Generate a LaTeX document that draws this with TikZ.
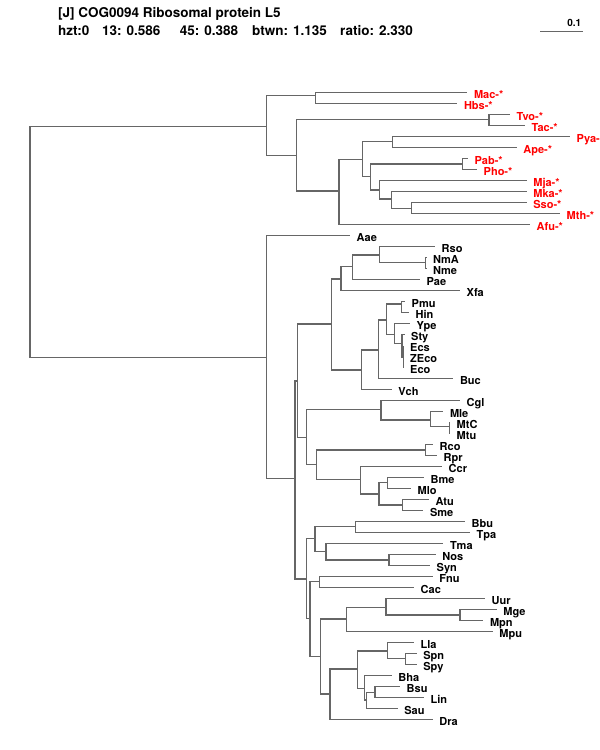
\documentclass[tikz,border=0pt]{standalone}
\usepackage{fontspec}
\setmainfont{TeX Gyre Heros}
\usepackage{xcolor}
\usepackage{tikz}
\usetikzlibrary{positioning}
\definecolor{treegray}{HTML}{666666}
\tikzset{
  branch/.style={draw=treegray, line width=1.4pt},
  leaf/.style={
    font=\fontsize{11}{11}\selectfont\bfseries, inner sep=0pt,
    text height=8pt, text depth=0pt, yshift=-2pt
  },
  archleaf/.style={leaf, text=red},
  bactleaf/.style={leaf, text=black},
  header/.style={font=\fontsize{13.5}{14}\selectfont\bfseries, inner sep=0pt, anchor=base west},
  scalelabel/.style={font=\fontsize{10}{10}\selectfont\bfseries, inner sep=0pt, anchor=base east},
}

\begin{document}
\begin{tikzpicture}[x=1pt, y=-1pt]

  \useasboundingbox (0,0) rectangle (600,750);

  % Header
  \node[header] (title) at (58,17.5) {[J] COG0094 Ribosomal protein L5};
  \node[header] (stats) at (58,35) {\makebox[44pt][l]{hzt:0}\makebox[77.6pt][l]{13: 0.586}%
    \makebox[72.4pt][l]{45: 0.388}\makebox[88pt][l]{btwn: 1.135}ratio: 2.330};

  % Scale bar
  \coordinate (sb0) at (540,31.7);
  \coordinate (sb1) at (583,31.7);
  \draw[branch] (sb0) -- (sb1);
  \node[scalelabel] (sblabel) at (581.5,26.5) {0.1};

  % Inner nodes
  \foreach \n/\x/\y in {R/30/242, A1/266.7/126.7, MH/315.7/95.7, N2/296.7/155.7,
      TT/489/119.3, N3/339/191, N4/362.7/159.3, PA/392.3/141.7, N5/370.7/176.7,
      PP/462.3/164, N6/379.3/190, N7/391.7/199, N8/411.7/208.3,
      B1/266.7/357.7, B2/295/478.3, B3/297.7/381, B4/331.7/324, B5/341/279,
      B6/352.3/266.7, B7/379.3/255, NN/425.7/262.7, B8/361.7/370, B9/378.3/350,
      B10/386.7/320, PH/401.7/304, B11/394.3/334.3, E1/402/343.3, E2/403.5/357,
      B12/306.7/437.7, ACT/381/409.3, MM/430.7/420, MT/449.3/426.7,
      C1/316.7/464.3, RR/425.7/450, C2/360.7/479.3, C3/379/494,
      BM/387.7/482.7, AS/402.3/505,
      B13/306.7/579, B14/315/538.3, BT/355.7/526.7, D1/326/551.7, NS/389/560,
      B15/310/618.3, FC/319.3/581.7, B16/320.7/656.7, MOL/346.7/619,
      UM/386/607.3, MG/460/615, B17/330/694, B18/357.7/669, LS/387.7/651,
      SS/405.7/658.3, BAC/364.3/688.3, BAC2/366.7/700, BL/375/692.5}
    \coordinate (\n) at (\x,\y);

  % Archaea
  \foreach \n/\x/\y/\t in {mac/467.3/92.7/Mac-*, hbs/457.3/103.7/Hbs-*,
      tvo/510/114.7/Tvo-*, tac/525/125.7/Tac-*, pya/570/136.7/Pya-,
      ape/516.7/147.7/Ape-*, pab/468/158.7/Pab-*, pho/477/169.7/Pho-*,
      mja/526.7/180.7/Mja-*, mka/526.7/191.7/Mka-*, sso/526.7/202.7/Sso-*,
      mth/560/213.7/Mth-*, afu/530/224.7/Afu-*}
  {
    \coordinate (\n) at (\x,\y);
    \node[archleaf, right=6.5pt of \n] (\n-l) {\t};
  }

  % Bacteria
  \foreach \n/\x/\y/\t in {aae/350/235.7/Aae, rso/435/246.7/Rso,
      nma/426.5/257.7/NmA, nme/426.5/268.7/Nme, pae/420/279.7/Pae,
      xfa/460/290.7/Xfa, pmu/405/301.7/Pmu, hin/409/312.7/Hin,
      ype/410/323.7/Ype, sty/404.5/334.7/Sty, ecs/403.5/345.7/Ecs,
      zeco/403.5/356.7/ZEco, eco/403.5/367.7/Eco, buc/453.3/378.7/Buc,
      vch/391.7/389.7/Vch, cgl/460/400.7/Cgl, mle/443.3/411.7/Mle,
      mtc/450/422.7/MtC, mtu/450/433.7/Mtu, rco/433/444.7/Rco,
      rpr/437/455.7/Rpr, ccr/442/466.7/Ccr, bme/424/477.7/Bme,
      mlo/411/488.7/Mlo, atu/429/499.7/Atu, sme/423.3/510.7/Sme,
      bbu/465/521.7/Bbu, tpa/470/532.7/Tpa, tma/443.3/543.7/Tma,
      nos/435.7/554.7/Nos, syn/430/565.7/Syn, fnu/432.7/576.7/Fnu,
      cac/414/587.7/Cac, uur/485/598.7/Uur, mge/496.7/609.7/Mge,
      mpn/483.3/620.7/Mpn, mpu/492.7/631.7/Mpu, lla/414/642.7/Lla,
      spn/416.7/653.7/Spn, spy/416.7/664.7/Spy, bha/391.7/675.7/Bha,
      bsu/400/686.7/Bsu, lin/424/697.7/Lin, sau/397.7/708.7/Sau,
      dra/432.7/719.7/Dra}
  {
    \coordinate (\n) at (\x,\y);
    \node[bactleaf, right=6.5pt of \n] (\n-l) {\t};
  }

  % Branches
  \foreach \p/\c in {R/A1, R/B1,
      A1/MH, A1/N2, MH/mac, MH/hbs, N2/TT, N2/N3, TT/tvo, TT/tac,
      N3/N4, N3/afu, N4/PA, N4/N5, PA/pya, PA/ape, N5/PP, N5/N6,
      PP/pab, PP/pho, N6/mja, N6/N7, N7/mka, N7/N8, N8/sso, N8/mth,
      B1/aae, B1/B2, B2/B3, B2/B13, B3/B4, B3/B12, B4/B5, B4/B8,
      B5/B6, B5/xfa, B6/B7, B6/pae, B7/rso, B7/NN, NN/nma, NN/nme,
      B8/B9, B8/vch, B9/B10, B9/buc, B10/PH, B10/B11, PH/pmu, PH/hin,
      B11/ype, B11/E1, E1/sty, E1/E2, E2/ecs, E2/zeco, E2/eco,
      B12/ACT, B12/C1, ACT/cgl, ACT/MM, MM/mle, MM/MT, MT/mtc, MT/mtu,
      C1/RR, C1/C2, RR/rco, RR/rpr, C2/ccr, C2/C3, C3/BM, C3/AS,
      BM/bme, BM/mlo, AS/atu, AS/sme,
      B13/B14, B13/B15, B14/BT, B14/D1, BT/bbu, BT/tpa, D1/tma, D1/NS,
      NS/nos, NS/syn, B15/FC, B15/B16, FC/fnu, FC/cac, B16/MOL, B16/B17,
      MOL/UM, MOL/mpu, UM/uur, UM/MG, MG/mge, MG/mpn, B17/B18, B17/dra,
      B18/LS, B18/BAC, LS/lla, LS/SS, SS/spn, SS/spy, BAC/bha, BAC/BAC2,
      BAC2/BL, BAC2/sau, BL/bsu, BL/lin}
    \draw[branch] (\p) |- (\c);

\end{tikzpicture}
\end{document}
